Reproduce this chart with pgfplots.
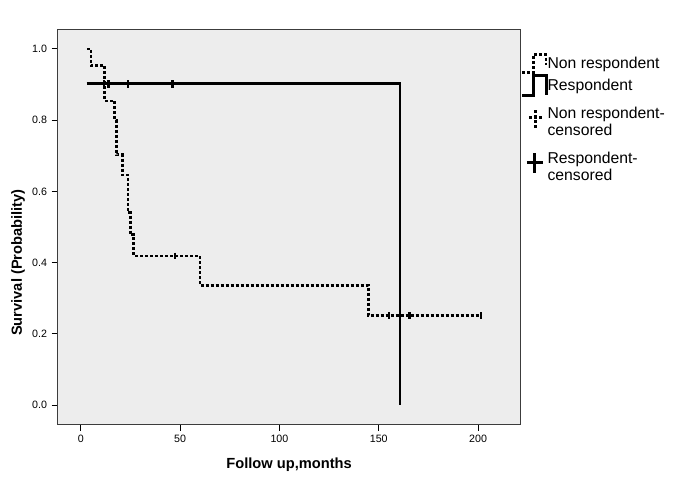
\documentclass[border=0pt]{standalone}
\usepackage{fontspec}
\setmainfont{Liberation Sans}
\usepackage{pgfplots}
\pgfplotsset{compat=1.18}
\definecolor{panel}{RGB}{237,237,237}
\definecolor{frame}{RGB}{60,60,60}
\begin{document}
\begin{tikzpicture}[x=1pt,y=1pt]
\useasboundingbox (0,0) rectangle (510,363);
\begin{axis}[
  at={(43.3pt,44.5pt)}, anchor=south west,
  scale only axis, width=347pt, height=296.5pt,
  xmin=-11.6, xmax=221.3, ymin=-0.055, ymax=1.055,
  axis background/.style={fill=panel},
  axis line style={frame, line width=0.8pt},
  xtick={0,50,100,150,200},
  ytick={0,0.2,0.4,0.6,0.8,1.0},
  yticklabel style={/pgf/number format/.cd, fixed, fixed zerofill, precision=1},
  /pgf/number format/assume math mode=true,
  tick align=outside, tick pos=left,
  major tick length=4.5pt,
  every tick/.style={black, line width=0.8pt},
  ticklabel style={font=\fontsize{8}{10}\selectfont},
  xlabel={Follow up,months},
  ylabel={Survival (Probability)},
  label style={font=\bfseries\fontsize{11}{13}\selectfont},
  xlabel style={at={(axis description cs:0.5,-0.102)}, anchor=center},
  ylabel style={at={(axis description cs:-0.0858,0.41)}, anchor=center},
  legend style={at={(axis description cs:1,0.94)}, anchor=north west,
    draw=none, fill=none, inner xsep=0pt, inner ysep=0pt,
    font=\fontsize{11.8}{12.75}\selectfont, row sep=0pt,
    nodes={inner xsep=0pt, inner ysep=2.5pt}},
  legend cell align=left,
  legend style={cells={align=left}},
]
% Non respondent (Kaplan-Meier step)
\addplot[const plot, black, line width=2pt, dash pattern=on 2.25pt off 1.5pt, forget plot]
coordinates {(3.2,1.0) (5.2,0.953) (12,0.854) (17,0.80) (18,0.703) (21,0.646)
(23.8,0.54) (25,0.478) (26.7,0.419) (60,0.336) (144.8,0.2515) (201.8,0.2515)};
% Respondent
\addplot[const plot, black, line width=2.2pt, forget plot]
coordinates {(3,0.902) (160.7,0.0) (160.7,0.0)};
% Non respondent censored
\addplot[only marks, mark=|, mark size=2.4pt, mark options={black, line width=1.8pt}, forget plot]
coordinates {(47.4,0.419) (155.3,0.2515) (165.4,0.2515) (201.5,0.2515)};
% Respondent censored
\addplot[only marks, mark=|, mark size=2.8pt, mark options={black, line width=1.8pt}, forget plot]
coordinates {(11.7,0.902) (14,0.902) (23.9,0.902) (46.2,0.902)};

\addlegendimage{legend image code/.code={
  \draw[black, line width=2pt, dash pattern=on 2.25pt off 1.5pt]
  (0pt,-6.5pt) -- (8.5pt,-6.5pt) -- (8.5pt,7pt) -- (18pt,7pt) -- (18pt,-0.5pt);}}
\addlegendentry{Non respondent}
\addlegendimage{legend image code/.code={
  \draw[black, line width=2.2pt]
  (0pt,-7.5pt) -- (8.5pt,-7.5pt) -- (8.5pt,7.5pt) -- (18pt,7.5pt) -- (18pt,-7.5pt);}}
\addlegendentry{Respondent}
\addlegendimage{legend image code/.code={
  \draw[black, line width=2pt, dash pattern=on 2.25pt off 1.5pt]
  (5pt,1pt) -- (15pt,1pt) (10pt,-6.5pt) -- (10pt,8pt);}}
\addlegendentry{\rule{0pt}{14pt}Non respondent-\\censored}
\addlegendimage{legend image code/.code={
  \draw[black, line width=2.2pt]
  (3.5pt,1pt) -- (15.5pt,1pt) (9.5pt,-7pt) -- (9.5pt,8pt);}}
\addlegendentry{\rule{0pt}{14pt}Respondent-\\censored}
\end{axis}
\end{tikzpicture}
\end{document}
